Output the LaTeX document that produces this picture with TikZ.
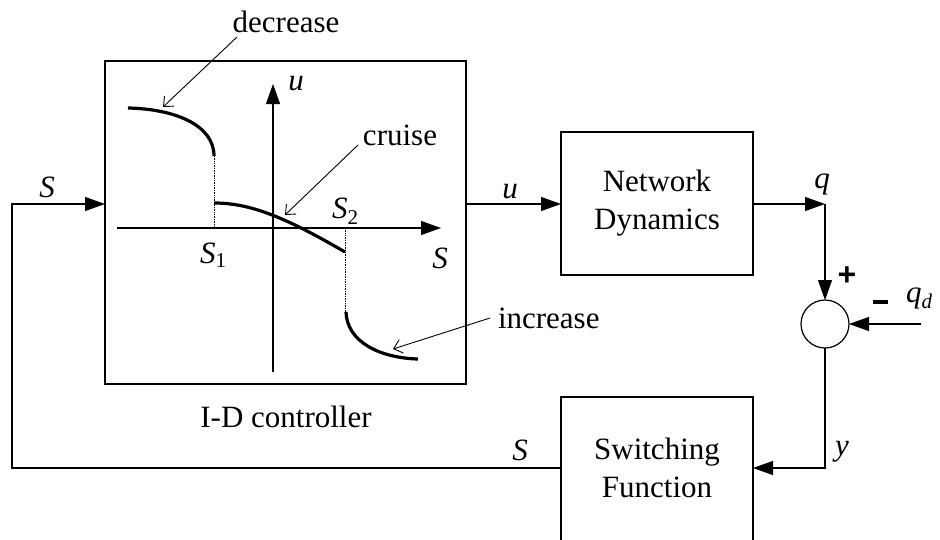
\documentclass[tikz,border=0pt]{standalone}
\usepackage{fontspec}
\setmainfont{Liberation Serif}
\newfontfamily\signfont{Liberation Sans}
\usetikzlibrary{arrows.meta}
\begin{document}
\begin{tikzpicture}[x=1pt,y=-1pt,
  every node/.style={font=\fontsize{31}{38}\selectfont, inner sep=0pt, outer sep=0pt},
  block/.style={draw, line width=1.2pt, minimum width=192pt},
  flow/.style={line width=1.2pt, -{Triangle[length=20pt,width=14pt]}},
  note/.style={line width=0.9pt, -{Straight Barb[length=8pt,width=14pt]}},
  curve/.style={line width=3.2pt},
  guide/.style={line width=0.7pt, densely dotted},
  var/.style={font=\fontsize{31}{38}\selectfont\itshape}]
\useasboundingbox (0,0) rectangle (940,539);
\clip (0,0) rectangle (940,539);

% --- blocks ---
\node[draw, line width=1.2pt, minimum width=361pt, minimum height=323pt] (ctrl) at (285.5,222.5) {};
\node[block, minimum height=143pt, align=center] (nd) at (657,203.5) {Network\\Dynamics};
\node[block, minimum height=160pt, anchor=north] (sw) at (657,397) {};
\node[align=center] (swtext) at (657,468) {Switching\\Function};
\node[draw, circle, line width=1.2pt, minimum size=48pt] (sum) at (825,324) {};

% --- routing points ---
\coordinate (fbL) at (12,468);
\coordinate (inL) at (12,204);
\coordinate (qc) at (825,204);
\coordinate (yc) at (825,468);
\coordinate (qd) at (921,324);

% --- signal connectors ---
\draw[flow] (sw.west |- yc) -- (fbL) -- (inL) -- (ctrl.west |- inL);
\draw[flow] (ctrl.east |- inL) -- (nd.west |- inL);
\draw[flow] (nd.east |- qc) -- (qc);
\draw[flow] (qc) -- (sum.north);
\draw[flow] (qd) -- (sum.east);
\draw[flow] (sum.south) -- (yc) -- (sw.east |- yc);

% --- controller characteristic ---
\coordinate (axL) at (117,228);
\coordinate (axR) at (441,228);
\coordinate (axB) at (273,372);
\coordinate (axT) at (273,84);
\draw[flow] (axL) -- (axR);
\draw[flow] (axB) -- (axT);

\draw[curve] (128,108) .. controls (175,109) and (214,125) .. (214,156);
\draw[curve] (214,203) .. controls (250,203) and (285,217) .. (345,252);
\draw[curve] (346,312) .. controls (347,342) and (380,358) .. (418,359);
\draw[guide] (214,156) -- (214,228);
\draw[guide] (345,228) -- (345,312);

% --- annotations ---
\node[anchor=base] (ldec) at (286,32) {decrease};
\node[anchor=base] (lcru) at (400,145) {cruise};
\node[anchor=base west] (linc) at (498,328) {increase};
\coordinate (decA) at (237,37);  \coordinate (decB) at (163,107);
\coordinate (cruA) at (358,145); \coordinate (cruB) at (285,215);
\coordinate (incA) at (490,318); \coordinate (incB) at (393,349);
\draw[note] (decA) -- (decB);
\draw[note] (cruA) -- (cruB);
\draw[note] (incA) -- (incB);

% --- signal and axis labels ---
\node[var, anchor=base] (lSin) at (47,197) {S};
\node[var, anchor=base] (luax) at (296,90) {u};
\node[var, anchor=base] (lSax) at (440,268) {S};
\node[anchor=base west] (lS1) at (200,263) {\itshape S\/\raisebox{-4pt}{\upshape\fontsize{21}{21}\selectfont 1}};
\node[anchor=base west] (lS2) at (332,218) {\itshape S\/\raisebox{-6pt}{\upshape\fontsize{21}{21}\selectfont 2}};
\node[var, anchor=base] (lu) at (510,198) {u};
\node[var, anchor=base] (lq) at (822,188) {q};
\node[anchor=base west] (lqd) at (906,302) {\itshape q\raisebox{-6pt}{\fontsize{21}{21}\selectfont d}};
\node[var, anchor=base] (ly) at (842,455) {y};
\node[var, anchor=base] (lSfb) at (520,460) {S};
\node[anchor=base] (lctl) at (286,427) {I-D controller};
\node (plus) at (847,276) {\signfont\bfseries\fontsize{32}{32}\selectfont +};
\node[fill, minimum width=15pt, minimum height=4.5pt] (minus) at (880,302) {};
\end{tikzpicture}
\end{document}
